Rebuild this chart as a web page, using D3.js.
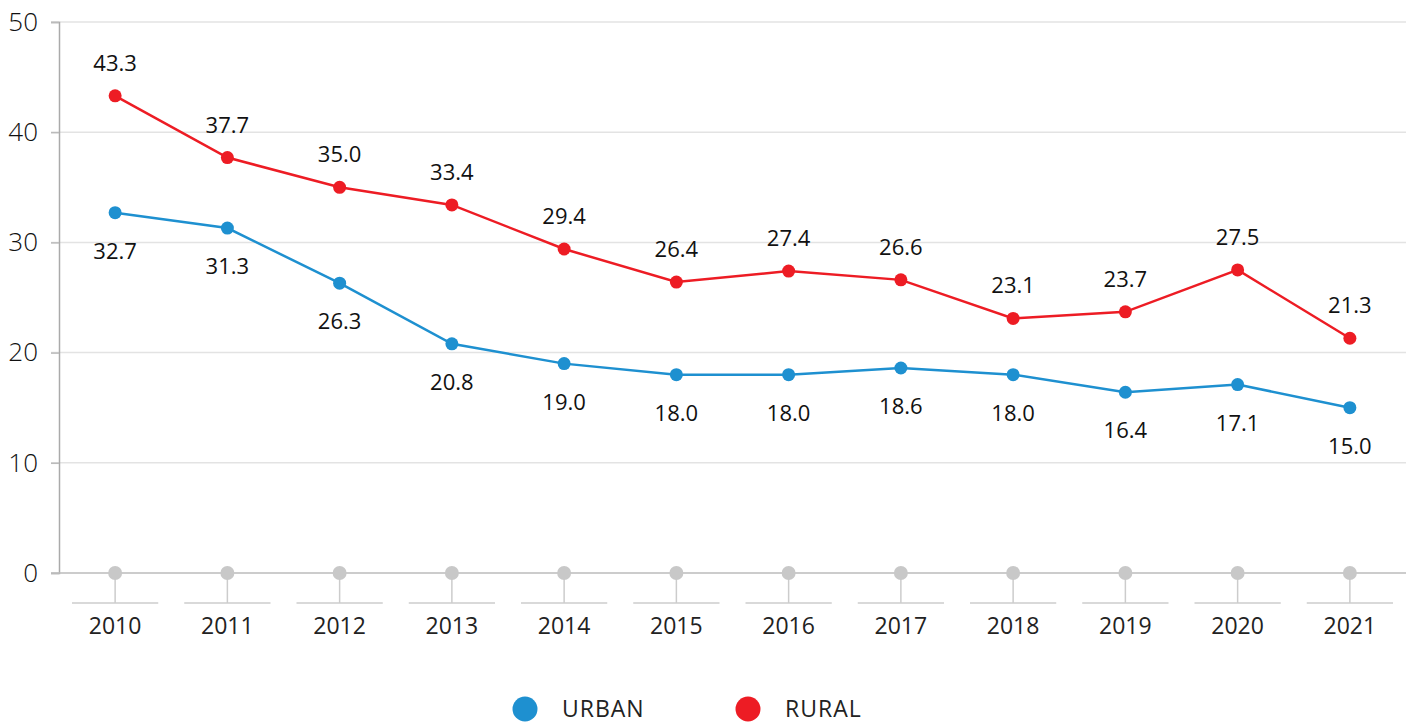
<!DOCTYPE html>
<html><head><meta charset="utf-8">
<script src="https://cdn.jsdelivr.net/npm/d3@7"></script>
<style>body{margin:0;background:#fff;font-family:"Open Sans","Noto Sans",sans-serif;}</style>
</head><body><svg id="c" width="1410" height="725"></svg>
<script>
const years = ["2010","2011","2012","2013","2014","2015","2016","2017","2018","2019","2020","2021"];
const urban = [32.7,31.3,26.3,20.8,19.0,18.0,18.0,18.6,18.0,16.4,17.1,15.0];
const rural = [43.3,37.7,35.0,33.4,29.4,26.4,27.4,26.6,23.1,23.7,27.5,21.3];
const yTicks = [0,10,20,30,40,50];
const seriesNames = ["URBAN","RURAL"];
const colors = ["#1e90d0","#ed1c24"];

const svg = d3.select("#c");
const x = d3.scaleBand().domain(years).range([59,1406]);
const y = d3.scaleLinear().domain([0,50]).range([573,22]);
const cx = d => x(d) + x.bandwidth()/2;

// gridlines
svg.append("g").selectAll("line").data(yTicks.filter(t=>t>0)).join("line")
  .attr("x1",51).attr("x2",1406).attr("y1",d=>y(d)).attr("y2",d=>y(d))
  .attr("stroke","#e3e3e3").attr("stroke-width",1.5);
// y axis
const ya = svg.append("g").attr("transform","translate(59,0)")
  .call(d3.axisLeft(y).tickValues(yTicks).tickSize(8).tickPadding(13));
ya.select(".domain").attr("stroke","#aaa").attr("stroke-width",1.5);
ya.selectAll(".tick line").attr("stroke","#bbb").attr("stroke-width",1.5);
ya.selectAll(".tick text").attr("font-size",26).attr("fill","#111").attr("font-weight",300)
  .attr("font-family","'Open Sans',sans-serif");
// zero line
svg.append("line").attr("x1",51).attr("x2",1406).attr("y1",y(0)).attr("y2",y(0))
  .attr("stroke","#bbb").attr("stroke-width",1.5);

// x axis decorations
const xg = svg.append("g");
xg.selectAll("line.v").data(years).join("line").attr("class","v")
  .attr("x1",cx).attr("x2",cx).attr("y1",y(0)).attr("y2",603)
  .attr("stroke","#ccc").attr("stroke-width",1.5);
xg.selectAll("line.h").data(years).join("line").attr("class","h")
  .attr("x1",d=>x(d)+13).attr("x2",d=>x(d)+x.bandwidth()-13).attr("y1",603).attr("y2",603)
  .attr("stroke","#ccc").attr("stroke-width",1.5);
xg.selectAll("circle").data(years).join("circle")
  .attr("cx",cx).attr("cy",y(0)).attr("r",7).attr("fill","#c8c8c8");
xg.selectAll("text").data(years).join("text")
  .attr("x",cx).attr("y",634).attr("text-anchor","middle")
  .attr("font-size",23).attr("fill","#222").text(d=>d);

// series
const series = [urban, rural];
series.forEach((vals,i)=>{
  const pts = years.map((yr,j)=>({yr, v: vals[j]}));
  svg.append("path").datum(pts)
    .attr("d", d3.line().x(d=>cx(d.yr)).y(d=>y(d.v)))
    .attr("fill","none").attr("stroke",colors[i]).attr("stroke-width",2.5);
  svg.append("g").selectAll("circle").data(pts).join("circle")
    .attr("cx",d=>cx(d.yr)).attr("cy",d=>y(d.v)).attr("r",6.5).attr("fill",colors[i]);
  svg.append("g").selectAll("text").data(pts).join("text")
    .attr("x",d=>cx(d.yr)).attr("y",d=> i===0 ? y(d.v)+46 : y(d.v)-25)
    .attr("text-anchor","middle").attr("font-size",22).attr("fill","#111")
    .text(d=>d.v.toFixed(1));
});

// legend
const lg = svg.append("g");
const lx = [525,748];
seriesNames.forEach((n,i)=>{
  lg.append("circle").attr("cx",lx[i]).attr("cy",709).attr("r",12.5).attr("fill",colors[i]);
  lg.append("text").attr("x",lx[i]+37).attr("y",717).attr("font-size",23)
    .attr("fill","#222").attr("letter-spacing",1).text(n);
});
</script></body></html>
